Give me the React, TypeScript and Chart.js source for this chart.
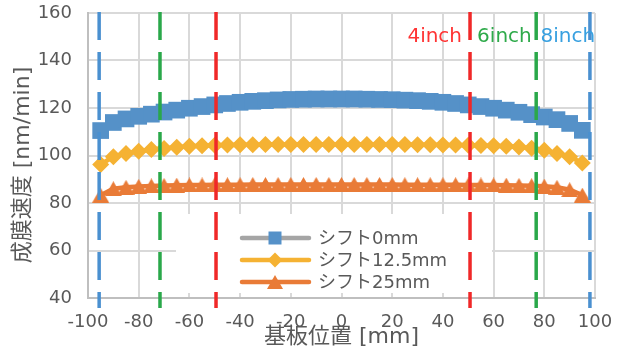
import React, { useEffect, useRef } from "react";
import { Chart, registerables } from "chart.js";

Chart.register(...registerables);

// ---- data ----
const positions = [
  -95, -90, -85, -80, -75, -70, -65, -60, -55, -50, -45, -40, -35, -30, -25, -20, -15, -10, -5, 0,
  5, 10, 15, 20, 25, 30, 35, 40, 45, 50, 55, 60, 65, 70, 75, 80, 85, 90, 95,
];
const shift0 = [
  110.5, 113.9, 115.4, 116.5, 117.4, 118.3, 119.1, 119.9, 120.6, 121.3, 121.9, 122.4, 122.8, 123.1,
  123.4, 123.6, 123.7, 123.8, 123.8, 123.8, 123.8, 123.7, 123.6, 123.5, 123.3, 123.1, 122.8, 122.4,
  121.9, 121.3, 120.6, 119.9, 119.1, 118.2, 117.2, 116.2, 115.1, 113.5, 110.6,
];
const shift125 = [
  96.2, 99.5, 100.8, 101.8, 102.5, 103.0, 103.5, 103.9, 104.1, 104.3, 104.4, 104.5, 104.5, 104.6,
  104.6, 104.6, 104.6, 104.6, 104.6, 104.6, 104.6, 104.6, 104.6, 104.6, 104.6, 104.5, 104.5, 104.4,
  104.4, 104.3, 104.2, 104.1, 103.9, 103.6, 103.1, 102.2, 100.8, 99.5, 96.8,
];
const shift25 = [
  83.3, 86.0, 86.6, 87.0, 87.2, 87.4, 87.5, 87.6, 87.6, 87.7, 87.7, 87.7, 87.8, 87.8, 87.8, 87.8,
  87.8, 87.8, 87.8, 87.8, 87.8, 87.8, 87.8, 87.8, 87.7, 87.7, 87.7, 87.7, 87.7, 87.6, 87.6, 87.6,
  87.5, 87.4, 87.3, 87.1, 86.6, 85.6, 83.3,
];
const seriesLabels = ["シフト0mm", "シフト12.5mm", "シフト25mm"];
const xRange = [-100, 100];
const yRange = [40, 160];
const tickStep = 20;
const xTitle = "基板位置 [mm]";
const yTitle = "成膜速度 [nm/min]";
const waferLabels = ["4inch", "6inch", "8inch"];
const waferLeftEdge = [-49.5, -71.6, -95.6];
const waferRightEdge = [50.7, 76.8, 98.0];
const waferLabelX = [26, 53.5, 78.5];
const waferLabelY = 150;

// ---- styles ----
const FONT = "'DejaVu Sans', 'Noto Sans CJK JP', sans-serif";
const TEXT = "#595959";
const BLUE = "#5591C8";
const GOLD = "#F5B233";
const ORANGE = "#E97B37";
const LEGEND_LINES = ["#A5A5A5", GOLD, ORANGE];
const MARKERS = [BLUE, GOLD, ORANGE];
const WAFER_COLORS = ["#F02828", "#2AA84A", "#4A90D0"];
const WAFER_TEXT = ["#FF3434", "#2EAA4A", "#38A0E0"];

function makeTriangle(color: string, w: number, h: number) {
  const c = document.createElement("canvas");
  c.width = w;
  c.height = h;
  const g = c.getContext("2d")!;
  g.fillStyle = color;
  g.beginPath();
  g.moveTo(w / 2, 0);
  g.lineTo(w, h);
  g.lineTo(0, h);
  g.closePath();
  g.fill();
  return c;
}

function drawMarker(ctx: CanvasRenderingContext2D, i: number, cx: number, cy: number) {
  ctx.fillStyle = MARKERS[i];
  ctx.beginPath();
  if (i === 0) {
    ctx.rect(cx - 6.5, cy - 6.5, 13, 13);
  } else if (i === 1) {
    ctx.moveTo(cx, cy - 7.5);
    ctx.lineTo(cx + 7.5, cy);
    ctx.lineTo(cx, cy + 7.5);
    ctx.lineTo(cx - 7.5, cy);
    ctx.closePath();
  } else {
    ctx.moveTo(cx, cy - 7);
    ctx.lineTo(cx + 8, cy + 7);
    ctx.lineTo(cx - 8, cy + 7);
    ctx.closePath();
  }
  ctx.fill();
}

const overlay = {
  id: "overlay",
  afterDatasetsDraw(chart: any) {
    const { ctx, chartArea } = chart;
    const xs = chart.scales.x;
    const ys = chart.scales.y;
    ctx.save();

    // legend box
    ctx.fillStyle = "#ffffff";
    ctx.fillRect(176, 214, 316, 79);
    seriesLabels.forEach((label, i) => {
      const cy = 238 + i * 22;
      ctx.strokeStyle = LEGEND_LINES[i];
      ctx.lineWidth = 4.5;
      ctx.lineCap = "round";
      ctx.beginPath();
      ctx.moveTo(242, cy);
      ctx.lineTo(309, cy);
      ctx.stroke();
      drawMarker(ctx, i, 275, cy);
      ctx.fillStyle = TEXT;
      ctx.font = `18px ${FONT}`;
      ctx.textAlign = "left";
      ctx.textBaseline = "middle";
      ctx.fillText(label, 318, cy + 1);
    });

    // wafer dashed lines
    ctx.lineCap = "butt";
    ctx.setLineDash([28, 12]);
    ctx.lineWidth = 3.5;
    waferLabels.forEach((_, i) => {
      ctx.strokeStyle = WAFER_COLORS[i];
      [waferLeftEdge[i], waferRightEdge[i]].forEach((v) => {
        const px = xs.getPixelForValue(v);
        ctx.beginPath();
        ctx.moveTo(px, chartArea.top - 1);
        ctx.lineTo(px, chartArea.bottom + 10);
        ctx.stroke();
      });
    });
    ctx.setLineDash([]);

    // wafer labels
    ctx.font = `20px ${FONT}`;
    ctx.textAlign = "left";
    ctx.textBaseline = "middle";
    waferLabels.forEach((t, i) => {
      ctx.fillStyle = WAFER_TEXT[i];
      ctx.fillText(t, xs.getPixelForValue(waferLabelX[i]), ys.getPixelForValue(waferLabelY));
    });

    // y title
    ctx.save();
    ctx.translate(23, 165);
    ctx.rotate(-Math.PI / 2);
    ctx.fillStyle = TEXT;
    ctx.font = `22px ${FONT}`;
    ctx.textAlign = "center";
    ctx.textBaseline = "middle";
    ctx.fillText(yTitle, 0, 0);
    ctx.restore();

    ctx.restore();
  },
};

export default function App() {
  const ref = useRef<HTMLCanvasElement>(null);

  useEffect(() => {
    const tri = makeTriangle(ORANGE, 17, 15);
    const mk = (vals: number[]) => positions.map((x, i) => ({ x, y: vals[i] }));
    const chart = new Chart(ref.current!, {
      type: "line",
      data: {
        datasets: [
          {
            label: seriesLabels[0],
            data: mk(shift0),
            borderColor: BLUE,
            borderWidth: 4.5,
            pointStyle: "rect",
            pointRadius: 11.8,
            pointBackgroundColor: BLUE,
            pointBorderWidth: 0,
          },
          {
            label: seriesLabels[1],
            data: mk(shift125),
            borderColor: GOLD,
            borderWidth: 4.5,
            pointStyle: "rectRot",
            pointRadius: 8.5,
            pointBackgroundColor: GOLD,
            pointBorderWidth: 0,
          },
          {
            label: seriesLabels[2],
            data: mk(shift25),
            borderColor: ORANGE,
            borderWidth: 4.5,
            pointStyle: tri as any,
            pointRadius: 9,
            pointBackgroundColor: ORANGE,
            pointBorderWidth: 0,
          },
        ],
      },
      options: {
        animation: false,
        responsive: false,
        devicePixelRatio: 1,
        layout: { autoPadding: false, padding: { top: 13, right: 34, left: 0, bottom: 0 } },
        plugins: { legend: { display: false }, tooltip: { enabled: false } },
        scales: {
          x: {
            type: "linear",
            min: xRange[0],
            max: xRange[1],
            ticks: {
              stepSize: tickStep,
              color: TEXT,
              font: { family: FONT, size: 18 },
              padding: 14,
              maxRotation: 0,
            },
            grid: { color: "#D9D9D9", lineWidth: 2, drawTicks: false },
            border: { color: "#BFBFBF", width: 2 },
            title: {
              display: true,
              text: xTitle,
              color: TEXT,
              font: { family: FONT, size: 22 },
              padding: { top: 0, bottom: 4 },
            },
            afterFit: (s: any) => {
              s.height = 56;
              s.paddingLeft = 0;
              s.paddingRight = 0;
            },
          },
          y: {
            min: yRange[0],
            max: yRange[1],
            ticks: {
              stepSize: tickStep,
              color: TEXT,
              font: { family: FONT, size: 18 },
              padding: 16,
            },
            grid: { color: "#D9D9D9", lineWidth: 2, drawTicks: false },
            border: { color: "#BFBFBF", width: 2 },
            afterFit: (s: any) => {
              s.width = 88;
              s.paddingTop = 0;
              s.paddingBottom = 0;
            },
          },
        },
      },
      plugins: [overlay],
    });
    return () => chart.destroy();
  }, []);

  return (
    <div style={{ position: "fixed", left: 0, top: 0, width: 629, height: 354, background: "#fff" }}>
      <canvas ref={ref} width={629} height={354} style={{ display: "block", width: 629, height: 354 }} />
    </div>
  );
}
